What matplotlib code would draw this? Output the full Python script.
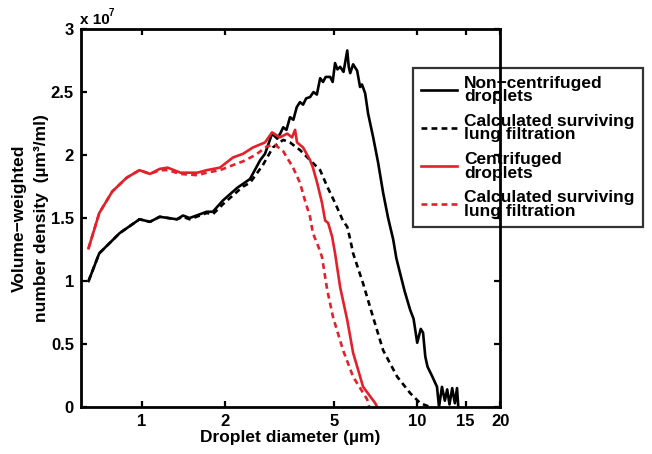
import numpy as np
import matplotlib
matplotlib.use('Agg')
import matplotlib.pyplot as plt
from matplotlib.ticker import FixedLocator, FixedFormatter, FuncFormatter, NullLocator

plt.rcParams['font.family'] = ['Liberation Sans', 'DejaVu Sans']
plt.rcParams['font.weight'] = 'bold'

# droplet diameter (um) and volume-weighted number density (x 1e7 um^3/ml)
noncent_x = [0.64, 0.70, 0.83, 0.98, 1.07, 1.16, 1.34, 1.41, 1.49, 1.72, 1.81, 1.97, 2.22,
             2.47, 2.69, 2.80, 2.97, 3.10, 3.18, 3.26, 3.35, 3.45, 3.55, 3.65, 3.75, 3.85,
             3.95, 4.08, 4.20, 4.32, 4.44, 4.55, 4.65, 4.83, 4.93, 5.03, 5.13, 5.25, 5.40,
             5.57, 5.64, 5.71, 5.85, 6.05, 6.20, 6.30, 6.47, 6.63, 6.92, 7.21, 7.52, 7.84,
             8.18, 8.40, 8.67, 9.00, 9.43, 9.70, 10.0, 10.3, 10.5, 10.7, 10.9, 11.3, 11.8,
             12.0, 12.3, 12.6, 12.85, 13.1, 13.4, 13.7, 13.95, 14.1]
noncent_y = [1.00, 1.22, 1.38, 1.49, 1.47, 1.51, 1.49, 1.52, 1.50, 1.55, 1.55, 1.64, 1.74,
             1.81, 1.96, 2.01, 2.17, 2.13, 2.17, 2.22, 2.20, 2.30, 2.28, 2.38, 2.42, 2.40,
             2.45, 2.46, 2.50, 2.48, 2.61, 2.58, 2.62, 2.62, 2.58, 2.73, 2.68, 2.70, 2.66,
             2.83, 2.70, 2.65, 2.72, 2.67, 2.54, 2.56, 2.49, 2.33, 2.14, 1.94, 1.70, 1.50,
             1.33, 1.18, 1.06, 0.92, 0.77, 0.70, 0.51, 0.62, 0.59, 0.40, 0.32, 0.25, 0.16,
             0.00, 0.16, 0.05, 0.14, 0.02, 0.15, 0.03, 0.15, 0.00]

noncent_filt_x = [0.64, 0.70, 0.83, 0.98, 1.07, 1.16, 1.34, 1.41, 1.49, 1.72, 1.81, 1.97,
                  2.22, 2.33, 2.47, 2.75, 2.99, 3.26, 3.45, 3.75, 4.08, 4.44, 4.71, 5.03,
                  5.37, 5.57, 5.71, 5.85, 6.36, 6.92, 7.52, 8.46, 9.43, 10.26, 11.15]
noncent_filt_y = [1.00, 1.22, 1.38, 1.49, 1.47, 1.51, 1.49, 1.51, 1.49, 1.54, 1.53, 1.61,
                  1.71, 1.75, 1.78, 1.92, 2.06, 2.12, 2.10, 2.04, 1.96, 1.88, 1.75, 1.62,
                  1.48, 1.43, 1.33, 1.22, 0.98, 0.71, 0.45, 0.24, 0.11, 0.03, 0.00]

cent_x = [0.64, 0.70, 0.78, 0.88, 0.98, 1.07, 1.16, 1.24, 1.38, 1.59, 1.72, 1.92, 2.14,
          2.33, 2.53, 2.80, 2.97, 3.17, 3.37, 3.51, 3.60, 3.66, 3.85, 4.08, 4.18, 4.33,
          4.51, 4.63, 4.75, 4.91, 5.03, 5.25, 5.57, 5.85, 6.36, 7.04, 7.15]
cent_y = [1.26, 1.54, 1.71, 1.82, 1.88, 1.85, 1.89, 1.90, 1.86, 1.86, 1.88, 1.90, 1.98,
          2.01, 2.06, 2.10, 2.18, 2.14, 2.17, 2.14, 2.20, 2.10, 2.06, 1.96, 1.90, 1.78,
          1.62, 1.48, 1.46, 1.35, 1.22, 0.95, 0.69, 0.43, 0.16, 0.03, 0.00]

cent_filt_x = [0.64, 0.70, 0.78, 0.88, 0.98, 1.07, 1.16, 1.24, 1.38, 1.59, 1.72, 1.92,
               2.14, 2.33, 2.53, 2.62, 2.85, 3.05, 3.26, 3.54, 3.75, 3.91, 4.08, 4.18,
               4.38, 4.51, 4.71, 4.95, 5.38, 5.85, 6.58, 6.70]
cent_filt_y = [1.26, 1.54, 1.71, 1.82, 1.88, 1.85, 1.88, 1.88, 1.85, 1.84, 1.86, 1.88,
               1.92, 1.95, 1.99, 2.01, 2.07, 2.08, 2.03, 1.90, 1.78, 1.64, 1.51, 1.38,
               1.27, 1.19, 0.93, 0.71, 0.45, 0.24, 0.06, 0.00]

x_ticks = [1, 2, 5, 10, 15, 20]
y_ticks = [0, 0.5, 1, 1.5, 2, 2.5, 3]
scale = 1e7

red = '#e4202a'
dash = (0, (2.2, 1.6))
lw = 1.9

fig = plt.figure(figsize=(6.52, 4.54), dpi=100)
ax = fig.add_axes([0.124, 0.1035, 0.643, 0.8325])

ax.plot(noncent_x, np.array(noncent_y) * scale, color='black', lw=lw,
        label='Non\u2212centrifuged\ndroplets')
ax.plot(noncent_filt_x, np.array(noncent_filt_y) * scale, color='black', lw=lw, ls=dash,
        label='Calculated surviving\nlung filtration')
ax.plot(cent_x, np.array(cent_y) * scale, color=red, lw=lw,
        label='Centrifuged\ndroplets')
ax.plot(cent_filt_x, np.array(cent_filt_y) * scale, color=red, lw=lw, ls=dash,
        label='Calculated surviving\nlung filtration')

ax.set_xscale('log')
ax.set_xlim(0.6, 20)
ax.set_ylim(0, 3 * scale)
ax.xaxis.set_major_locator(FixedLocator(x_ticks))
ax.xaxis.set_major_formatter(FixedFormatter([str(t) for t in x_ticks]))
ax.xaxis.set_minor_locator(NullLocator())
ax.yaxis.set_major_locator(FixedLocator([t * scale for t in y_ticks]))
ax.yaxis.set_major_formatter(FuncFormatter(lambda v, p: '%g' % (v / scale)))

ax.tick_params(direction='in', length=4, width=1.6, top=True, right=True,
               labelsize=12, pad=5)
for s in ax.spines.values():
    s.set_linewidth(2.0)

ax.set_xlabel('Droplet diameter (\u00b5m)', fontsize=12.5, fontweight='bold', labelpad=1)
ax.set_ylabel('Volume\u2212weighted\nnumber density  (\u00b5m\u00b3/ml)', fontsize=12.5,
              fontweight='bold', labelpad=1, linespacing=1.65)

fig.text(80 / 652, 1 - 24 / 454, 'x 10', fontsize=11, fontweight='bold', va='baseline')
fig.text(108.5 / 652, 1 - 16 / 454, '7', fontsize=7, fontweight='bold', va='baseline')

leg = ax.legend(loc='upper left', bbox_to_anchor=(413 / 652, 1 - 68 / 454),
                bbox_transform=fig.transFigure, frameon=True, fancybox=False,
                prop={'size': 12.5, 'weight': 'bold'}, handlelength=2.1,
                handletextpad=0.4, labelspacing=0.55, borderpad=0.45, borderaxespad=0)
leg.get_frame().set_edgecolor('black')
leg.get_frame().set_linewidth(1.6)
leg.get_frame().set_facecolor('none')
for t in leg.get_texts():
    t.set_linespacing(0.88)

fig.savefig('out.png', dpi=100)
